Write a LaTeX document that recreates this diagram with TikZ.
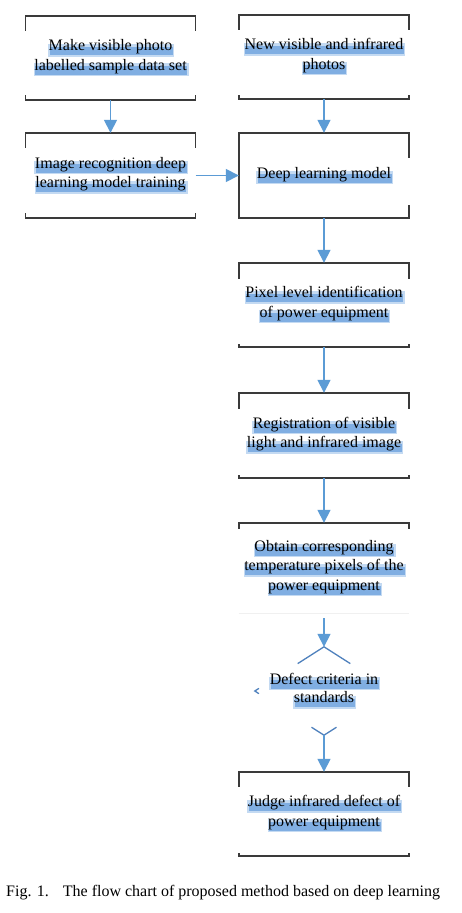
\documentclass[tikz,border=0pt]{standalone}
\usepackage{fontspec}
\setmainfont{Liberation Serif}
\usetikzlibrary{arrows.meta,calc}
\definecolor{flowblue}{HTML}{5B9BD5}
\definecolor{glowpale}{RGB}{196,218,242}
\definecolor{glowblue}{RGB}{128,174,226}
\definecolor{framegray}{HTML}{3A3A3A}
\definecolor{edgeblue}{HTML}{4F81BD}
% blue glow band under each text line
\newsavebox{\linebox}
\newcommand{\shine}[1]{\sbox{\linebox}{#1}%
  \makebox[0pt][l]{\hspace*{-0.5pt}\color{glowpale}\rule[-6pt]{\dimexpr\wd\linebox+2.5pt\relax}{13pt}}%
  \makebox[0pt][l]{\hspace*{0.8pt}\color{glowblue}\rule[-4.5pt]{\wd\linebox}{8.5pt}}%
  \usebox{\linebox}}

\begin{document}
\begin{tikzpicture}[x=1pt,y=-1pt,
  box/.style={minimum width=170pt,minimum height=84pt,inner sep=0pt,align=center,font=\fontsize{16}{19.5}\selectfont},
  frame/.style={framegray,line width=1.5pt},
  flow/.style={flowblue,line width=1.6pt,-{Triangle[width=13pt,length=13pt]}},
  faint/.style={gray!12,line width=1pt},
  edge/.style={edgeblue,line width=1.3pt}]

\fill[white] (0,0) rectangle (462,913);
\useasboundingbox (0,0) rectangle (462,913);

% Left column
\node[box] (make) at (110.5,58) {\shine{Make visible photo}\\\shine{labelled sample data set}};
\node[box,minimum height=85pt] (train) at (110.5,175.5) {\shine{Image recognition deep}\\\shine{learning model training}};

% Right column
\node[box] (photos) at (324,57) {\shine{New visible and infrared}\\\shine{photos}};
\node[box,minimum height=85pt] (model) at (324,175.5) {\shine{Deep learning model}};
\node[box] (pixel) at (324,305) {\shine{Pixel level identification}\\\shine{of power equipment}};
\node[box,minimum height=85pt] (regist) at (324,435.5) {\shine{Registration of visible}\\\shine{light and infrared image}};
\node[box,minimum height=90pt] (obtain) at (324,568) {\shine{Obtain corresponding}\\\shine{temperature pixels of the}\\\shine{power equipment}};
\node[box,minimum width=138pt,minimum height=88pt,font=\fontsize{16}{18.5}\selectfont] (criteria) at (324,691) {\shine{Defect criteria in}\\\shine{standards}};
\node[box] (judge) at (324,814) {\shine{Judge infrared defect of}\\\shine{power equipment}};

% Brackets
\foreach \b/\t/\u in {make/15/5,train/15/5,photos/15/4,pixel/16/3,regist/16/3,judge/15/3}{
  \draw[frame] (\b.north west) ++(0,\t) |- (\b.north east) -- ++(0,\t);
  \draw[frame] (\b.south west) ++(0,-\u) |- (\b.south east) -- ++(0,-\u);
}
\draw[frame] (model.north east) ++(0,25) |- (model.north west) |- (model.south east) -- ++(0,-13);
\draw[frame] (obtain.north west) ++(0,6) |- (obtain.north east) -- ++(0,6);
\draw[faint] (obtain.south west) -- (obtain.south east);

% Broken decision outline
\draw[edge] ($(criteria.north)!0.38!(criteria.west)$) -- (criteria.north) -- ($(criteria.north)!0.38!(criteria.east)$);
\draw[edge] ($(criteria.west)!0.06!(criteria.north)$) -- (criteria.west) -- ($(criteria.west)!0.06!(criteria.south)$);
\draw[edge] ($(criteria.south)!0.18!(criteria.west)$) -- (criteria.south) -- ($(criteria.south)!0.18!(criteria.east)$);

% Arrows
\draw[flow] (make) -- (train);
\draw[flow] (train) -- (model);
\draw[flow] (photos) -- (model);
\draw[flow] (model) -- (pixel);
\draw[flow] (pixel) -- (regist);
\draw[flow] (regist) -- (obtain);
\draw[flow,shorten <=5pt] (obtain) -- (criteria);
\draw[flow] (criteria) -- (judge);

% Caption
\node[anchor=base west,inner sep=0pt,font=\fontsize{16}{19}\selectfont] (caption) at (6,896) {Fig. 1.\hspace{14pt}The flow chart of proposed method based on deep learning};

\end{tikzpicture}
\end{document}
